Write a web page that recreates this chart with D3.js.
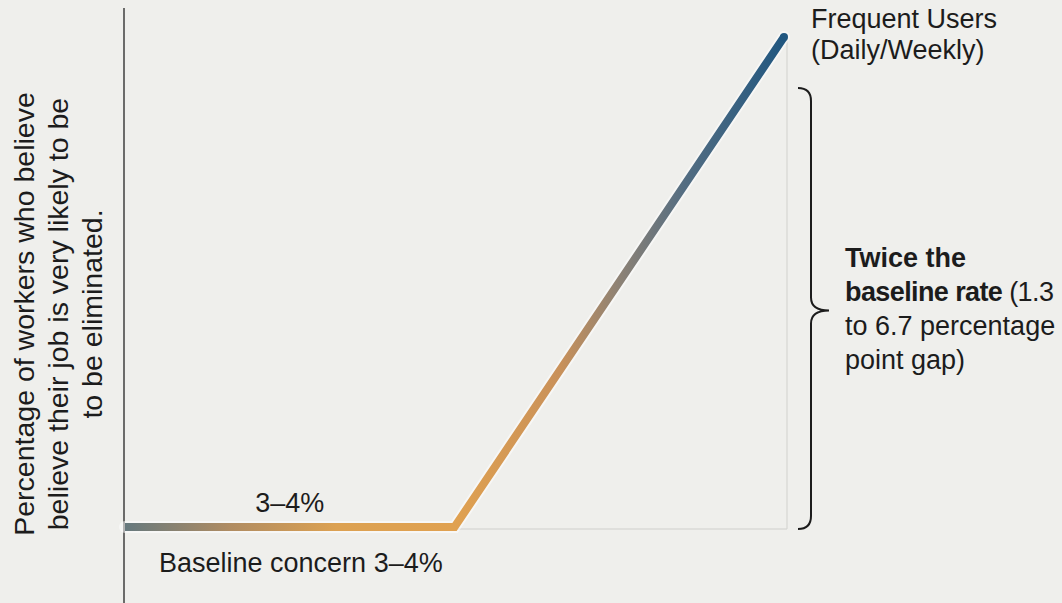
<!DOCTYPE html>
<html>
<head>
<meta charset="utf-8">
<script src="https://cdn.jsdelivr.net/npm/d3@7"></script>
<style>
  html, body { margin: 0; padding: 0; background: #efefec; }
  svg { display: block; }
  text { font-family: "Liberation Sans", Arial, sans-serif; fill: #1c1c1c; }
</style>
</head>
<body>
<svg id="chart" width="1062" height="603"></svg>
<script>
// ---- data ----
const stages = ["Non-users", "Occasional users", "Frequent Users (Daily/Weekly)"];
const stagePos = [0, 1, 2];
const concern = [3.5, 3.5, 7.0];
const yLabelLines = ["Percentage of workers who believe", "believe their job is very likely to be", "to be eliminated."];
const baselineValueLabel = "3–4%";
const baselineLabel = "Baseline concern 3–4%";
const endLabelLines = ["Frequent Users", "(Daily/Weekly)"];
const gapLines = [
  [{t: "Twice the", b: true}],
  [{t: "baseline rate", b: true}, {t: " (1.3", b: false}],
  [{t: "to 6.7 percentage", b: false}],
  [{t: "point gap)", b: false}]
];

(function () {
const svg = d3.select("#chart");
const x = d3.scaleLinear().domain([0, 2]).range([125, 784]);
const y = d3.scaleLinear().domain([3.5, 7]).range([527, 37]);

const pts = stagePos.map((p, i) => ({x: p, y: concern[i]}));

// gradient
const defs = svg.append("defs");
const grad = defs.append("linearGradient")
  .attr("id", "lineGrad")
  .attr("gradientUnits", "userSpaceOnUse")
  .attr("x1", x(0)).attr("x2", x(2)).attr("y1", 0).attr("y2", 0);
[[0, "#66797e"], [0.16, "#b08c62"], [0.32, "#dca152"], [0.5, "#e0a150"],
 [0.66, "#c9915a"], [0.75, "#8d8275"], [0.85, "#536d82"], [1, "#215780"]]
  .forEach(([o, c]) => grad.append("stop").attr("offset", o).attr("stop-color", c));

// y axis line
svg.append("line")
  .attr("x1", 124).attr("x2", 124).attr("y1", 8).attr("y2", 603)
  .attr("stroke", "#4a4a4a").attr("stroke-width", 1.6);

// guide lines
svg.append("line")
  .attr("x1", x(1)).attr("x2", x(2) + 3).attr("y1", y(3.5) + 2).attr("y2", y(3.5) + 2)
  .attr("stroke", "#cfcfcc").attr("stroke-width", 1.2);
svg.append("line")
  .attr("x1", x(2) + 3).attr("x2", x(2) + 3).attr("y1", y(7)).attr("y2", y(3.5) + 2)
  .attr("stroke", "#d6d6d3").attr("stroke-width", 1.2);

// line
const lineGen = d3.line().x(d => x(d.x)).y(d => y(d.y));
svg.append("path")
  .datum(pts)
  .attr("d", lineGen)
  .attr("fill", "none")
  .attr("stroke", "#ffffff")
  .attr("stroke-opacity", 0.5)
  .attr("stroke-width", 12)
  .attr("stroke-linejoin", "miter")
  .attr("stroke-linecap", "round");
svg.append("path")
  .datum(pts)
  .attr("d", lineGen)
  .attr("fill", "none")
  .attr("stroke", "url(#lineGrad)")
  .attr("stroke-width", 8)
  .attr("stroke-linejoin", "miter")
  .attr("stroke-linecap", "butt");
svg.append("circle")
  .attr("cx", x(2)).attr("cy", y(7)).attr("r", 4).attr("fill", "#215780");

// y label
const yl = svg.append("text")
  .attr("transform", "translate(0,314) rotate(-90)")
  .attr("text-anchor", "middle")
  .style("font-size", "28.5px");
yLabelLines.forEach((l, i) => {
  yl.append("tspan").attr("x", 0).attr("y", 34 + i * 34).text(l);
});

// baseline labels
svg.append("text")
  .attr("x", x(0.5)).attr("y", 512)
  .attr("text-anchor", "middle")
  .style("font-size", "27px")
  .text(baselineValueLabel);
svg.append("text")
  .attr("x", 159).attr("y", 572)
  .style("font-size", "27px")
  .text(baselineLabel);

// end label
const el = svg.append("text").style("font-size", "27px");
endLabelLines.forEach((l, i) => {
  el.append("tspan").attr("x", 811).attr("y", 28 + i * 31).text(l);
});

// brace
const bx = 811, bTop = 88, bBot = 529, bMid = (bTop + bBot) / 2 + 2, tip = 829;
svg.append("path")
  .attr("d", `M${bx - 13},${bTop} Q${bx},${bTop} ${bx},${bTop + 13}
              L${bx},${bMid - 13} Q${bx},${bMid} ${tip},${bMid}
              Q${bx},${bMid} ${bx},${bMid + 13}
              L${bx},${bBot - 13} Q${bx},${bBot} ${bx - 13},${bBot}`)
  .attr("fill", "none").attr("stroke", "#1c1c1c").attr("stroke-width", 2);

// gap annotation
gapLines.forEach((parts, i) => {
  const t = svg.append("text").attr("x", 845).attr("y", 267 + i * 34)
    .style("font-size", "27px")
    .style("letter-spacing", i === 1 ? "-0.6px" : "0px");
  parts.forEach(p => t.append("tspan").style("font-weight", p.b ? 700 : 400).text(p.t));
});
})();
</script>
</body>
</html>
